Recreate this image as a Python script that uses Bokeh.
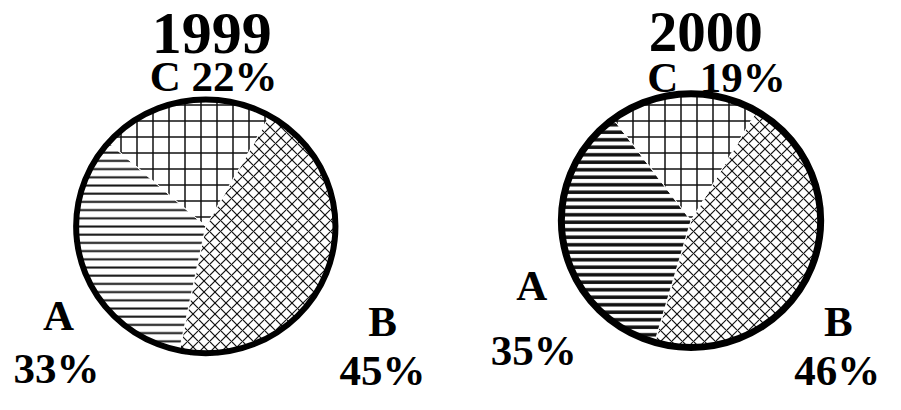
import numpy as np
from bokeh.plotting import figure
from bokeh.models import ColumnDataSource, Range1d
from bokeh.embed import file_html
from bokeh.resources import INLINE
from bokeh.core.properties import value

# ---- data ----
years = ["1999", "2000"]
categories = ["B", "A", "C"]          # clockwise order of slices
values_1999 = [45, 33, 22]
values_2000 = [46, 35, 19]

# ---- layout / style (reference pixel coords; data y = 410 - img_y) ----
W, H = 901, 410
pies = {
    "1999": dict(cx=209, cy=235, r=132, lw=6, start=30, vals=values_1999),
    "2000": dict(cx=703, cy=229, r=132, lw=7, start=31, vals=values_2000),
}
hatch_style = {
    "1999": {"A": ("horizontal_line", 8.2, 2.0),
             "B": ("diagonal_cross", 11, 1.2),
             "C": ("cross", 16, 1.5)},
    "2000": {"A": ("horizontal_line", 7.5, 3.5),
             "B": ("diagonal_cross", 11, 1.2),
             "C": ("cross", 16, 1.5)},
}

p = figure(width=885, height=394, x_range=Range1d(0, W), y_range=Range1d(0, H),
           output_backend="svg", toolbar_location=None, min_border=0)
p.axis.visible = False
p.grid.visible = False
p.outline_line_color = None
p.background_fill_color = "white"
p.border_fill_color = "white"

for yr in years:
    cfg = pies[yr]
    vals = np.array(cfg["vals"], dtype=float)
    cum = np.concatenate([[0], np.cumsum(vals)]) / vals.sum() * 360.0 + cfg["start"]
    start = np.radians(90 - cum[:-1])
    end = np.radians(90 - cum[1:])
    pat = [hatch_style[yr][c][0] for c in categories]
    hs = [hatch_style[yr][c][1] for c in categories]
    hw = [hatch_style[yr][c][2] for c in categories]
    src = ColumnDataSource(dict(
        x=[cfg["cx"]] * len(categories), y=[H - cfg["cy"]] * len(categories),
        start=start, end=end, pat=pat, hs=hs, hw=hw, cat=categories))
    p.wedge(x="x", y="y", radius=cfg["r"], start_angle="start", end_angle="end",
            direction="clock", source=src, fill_color="white", line_color="white",
            line_width=1, hatch_pattern="pat", hatch_scale="hs", hatch_weight="hw",
            hatch_color="#111111")
    p.ellipse(x=[cfg["cx"]], y=[H - cfg["cy"]], width=2 * cfg["r"], height=2 * cfg["r"],
              fill_color=None, line_color="black", line_width=cfg["lw"])

# ---- texts (positions are visual centres of the glyphs) ----
def lab(cat, yr):
    v = dict(zip(categories, pies[yr]["vals"]))[cat]
    return f"{v}%"

title_src = ColumnDataSource(dict(
    x=[215, 718], y=[H - 34, H - 33], text=years, size=["60px", "57px"]))
p.text(x="x", y="y", text="text", source=title_src, text_font=value("Liberation Serif"),
       text_font_style="bold", text_font_size="size", text_align="center",
       text_baseline="middle", text_color="black")

label_text = ["C " + lab("C", "1999"), "A", lab("A", "1999"), "B", lab("B", "1999"),
              "C\u00a0\u00a0" + lab("C", "2000"), "A", lab("A", "2000"), "B", lab("B", "2000")]
label_x = [217, 59, 57, 389, 389, 729, 541, 543, 853, 852]
label_img_y = [79, 328, 383, 334, 385, 80, 297, 364, 334, 385]
label_src = ColumnDataSource(dict(x=label_x, y=[H - v for v in label_img_y], text=label_text))
p.text(x="x", y="y", text="text", source=label_src, text_font=value("Liberation Serif"),
       text_font_style="bold", text_font_size="43px", text_align="center",
       text_baseline="middle", text_color="black")

open("out.html", "w").write(file_html(p, INLINE))
